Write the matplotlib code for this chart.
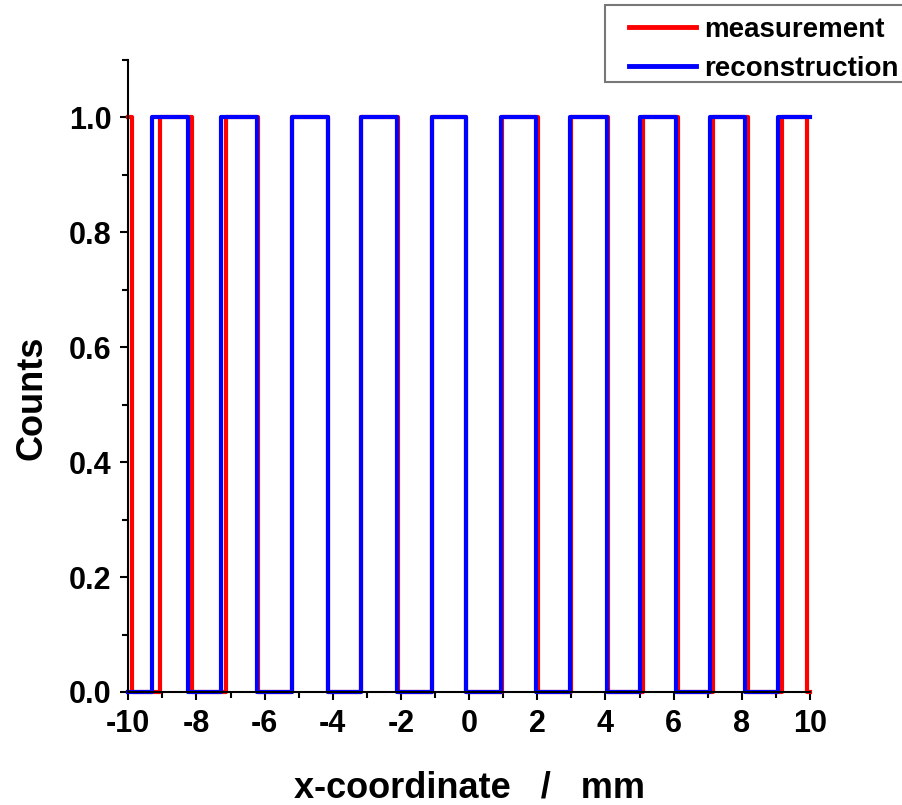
import matplotlib.pyplot as plt
from matplotlib.patches import Rectangle
import numpy as np

plt.rcParams['font.family'] = ['Liberation Sans', 'DejaVu Sans']
plt.rcParams['font.weight'] = 'bold'
plt.rcParams['axes.unicode_minus'] = False

# switching positions (mm) of each profile
measurement_start = 1
measurement_edges = [-9.88, -9.07, -8.13, -7.12, -6.19, -5.20, -4.14, -3.16, -2.09, -1.09,
                     -0.08, 0.95, 2.02, 2.99, 4.07, 5.11, 6.14, 7.14, 8.18, 9.18, 9.90]
reconstruction_start = 0
reconstruction_edges = [-9.30, -8.24, -7.27, -6.23, -5.21, -4.15, -3.17, -2.11, -1.10, -0.10,
                        0.93, 1.96, 2.96, 4.04, 5.01, 6.07, 7.07, 8.09, 9.05]
x_range = [-10, 10]


def square_wave(edges, start):
    xs = [x_range[0]] + list(edges) + [x_range[1]]
    levels = [(start + i) % 2 for i in range(len(edges) + 1)]
    ys = levels + [levels[-1]]
    return np.array(xs), np.array(ys)


fig = plt.figure(figsize=(9.03, 8.05), dpi=100)
ax = fig.add_axes([0.1421, 0.1404, 0.7549, 0.7851])

mx, my = square_wave(measurement_edges, measurement_start)
rx, ry = square_wave(reconstruction_edges, reconstruction_start)
ax.step(mx, my, where='post', color='#ff0000', linewidth=3, label='measurement', clip_on=False)
ax.step(rx, ry, where='post', color='#0000ff', linewidth=3, label='reconstruction', clip_on=False)

ax.set_xlim(-10, 10)
ax.set_ylim(0, 1.1)
ax.set_xticks(np.arange(-10, 11, 2))
ax.set_xticks(np.arange(-9, 10, 2), minor=True)
ax.set_yticks(np.arange(0, 1.01, 0.2))
ax.set_yticks(np.arange(0.1, 1.11, 0.2), minor=True)
ax.yaxis.set_major_formatter(plt.FormatStrFormatter('%.1f'))

ax.spines['top'].set_visible(False)
ax.spines['right'].set_visible(False)
ax.spines['left'].set_linewidth(1.5)
ax.spines['bottom'].set_linewidth(1.5)
ax.tick_params(which='major', direction='out', length=6, width=1.5, labelsize=22, pad=6)
ax.tick_params(which='minor', direction='out', length=4, width=1.5)
for lbl in ax.get_xticklabels() + ax.get_yticklabels():
    lbl.set_fontweight('bold')

ax.set_xlabel('x-coordinate   /   mm', fontsize=26, fontweight='bold')
ax.set_ylabel('Counts', fontsize=26, fontweight='bold')
ax.xaxis.set_label_coords(0.5, -0.125)
ax.yaxis.set_label_coords(-0.115, 0.465)

# legend box, partly running off the right edge as in the original
fig.patches.append(Rectangle((605 / 903, 1 - 82 / 805), 310 / 903, 77 / 805,
                             transform=fig.transFigure, facecolor='white',
                             edgecolor='#777777', linewidth=1.5, zorder=5))
leg = fig.legend(loc='upper left', bbox_to_anchor=(629 / 903, 1 - 17 / 805), fontsize=20,
                 frameon=False, handlelength=2.4, handletextpad=0.3, borderpad=0,
                 labelspacing=0.45, borderaxespad=0)
leg.set_zorder(6)
for line in leg.get_lines():
    line.set_linewidth(3.5)
for t in leg.get_texts():
    t.set_fontweight('bold')

fig.savefig('out.png', dpi=100)
